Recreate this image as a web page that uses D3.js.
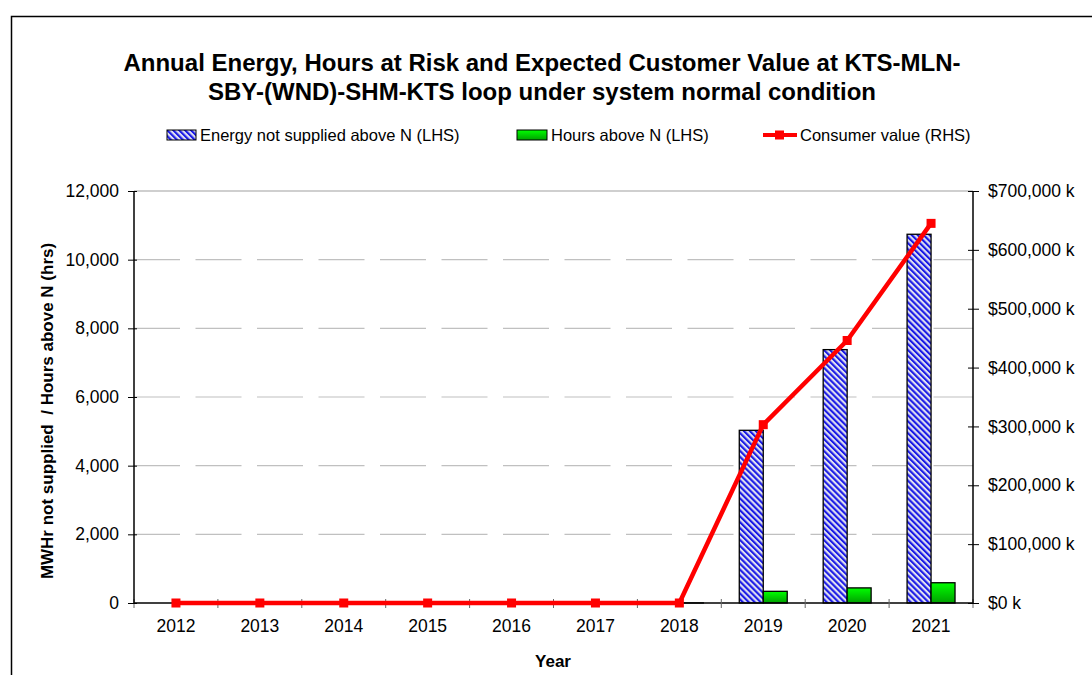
<!DOCTYPE html>
<html>
<head>
<meta charset="utf-8">
<script src="https://cdn.jsdelivr.net/npm/d3@7"></script>
<style>
  body { margin: 0; background: #fff; }
  text { font-family: "Liberation Sans", Arial, sans-serif; fill: #000; }
</style>
</head>
<body>
<div id="vis"></div>
<script>

// data
var years = ['2012', '2013', '2014', '2015', '2016', '2017', '2018', '2019', '2020', '2021'];
var energyMWh = [0, 0, 0, 0, 0, 0, 20, 5030, 7380, 10740];
var hoursAboveN = [0, 0, 0, 0, 0, 0, 3, 340, 440, 590];
var consumerValueK = [0, 0, 0, 0, 0, 0, 0, 303000, 446000, 645000];

var leftTicks = [0, 2000, 4000, 6000, 8000, 10000, 12000];
var rightTicks = [0, 100000, 200000, 300000, 400000, 500000, 600000, 700000];

var width = 1092;
var height = 675;

var plot = { left: 134, right: 973, top: 191, bottom: 603 };

var svg = d3.select('#vis')
  .append('svg')
  .attr('width', width)
  .attr('height', height);

// patterns and gradient
var defs = svg.append('defs');

var hatch = defs.append('pattern')
  .attr('id', 'hatch')
  .attr('patternUnits', 'userSpaceOnUse')
  .attr('width', 4.2)
  .attr('height', 4.2)
  .attr('patternTransform', 'rotate(-45)');
hatch.append('rect').attr('width', 4.2).attr('height', 4.2).attr('fill', '#e0e0f0');
hatch.append('rect').attr('width', 2.1).attr('height', 4.2).attr('fill', '#1a1ae6');

var grad = defs.append('linearGradient')
  .attr('id', 'greenGrad')
  .attr('x1', 0).attr('y1', 0).attr('x2', 0).attr('y2', 1);
grad.append('stop').attr('offset', '0%').attr('stop-color', '#00ff00');
grad.append('stop').attr('offset', '100%').attr('stop-color', '#00a000');

// outer frame
svg.append('rect')
  .attr('x', 11.5)
  .attr('y', 16.5)
  .attr('width', 1200)
  .attr('height', 800)
  .attr('fill', 'none')
  .attr('stroke', '#000')
  .attr('stroke-width', 1.5);

// title
var title = svg.append('text')
  .attr('text-anchor', 'middle')
  .attr('font-weight', 'bold')
  .attr('font-size', 24);
title.append('tspan').attr('x', 542).attr('y', 71)
  .text('Annual Energy, Hours at Risk and Expected Customer Value at KTS-MLN-');
title.append('tspan').attr('x', 542).attr('y', 100)
  .text('SBY-(WND)-SHM-KTS loop under system normal condition');

// scales
var x = d3.scaleBand()
  .domain(years)
  .range([plot.left, plot.right])
  .padding(0);

var xSub = d3.scaleBand()
  .domain(['energy', 'hours'])
  .range([0, x.bandwidth()])
  .paddingInner(0)
  .paddingOuter(0.75);

var yLeft = d3.scaleLinear()
  .domain([0, 12000])
  .range([plot.bottom, plot.top]);

var yRight = d3.scaleLinear()
  .domain([0, 700000])
  .range([plot.bottom, plot.top]);

// gridlines
svg.append('g')
  .selectAll('line')
  .data(leftTicks.filter(function (d) { return d > 0 && d < 12000; }))
  .enter().append('line')
  .attr('x1', plot.left)
  .attr('x2', plot.right)
  .attr('y1', function (d) { return yLeft(d); })
  .attr('y2', function (d) { return yLeft(d); })
  .attr('stroke', '#c0c0c0')
  .attr('stroke-width', 1.2)
  .attr('stroke-dasharray', '46,15.5');

svg.append('line')
  .attr('x1', plot.left).attr('x2', plot.right)
  .attr('y1', yLeft(12000)).attr('y2', yLeft(12000))
  .attr('stroke', '#a0a0a0')
  .attr('stroke-width', 1.2);

// bars
var groups = svg.append('g')
  .selectAll('g')
  .data(years)
  .enter().append('g')
  .attr('transform', function (d) { return 'translate(' + x(d) + ',0)'; });

groups.filter(function (d, i) { return energyMWh[i] > 0; })
  .append('rect')
  .attr('x', xSub('energy'))
  .attr('width', xSub.bandwidth())
  .attr('y', function (d) { return yLeft(energyMWh[years.indexOf(d)]); })
  .attr('height', function (d) { return plot.bottom - yLeft(energyMWh[years.indexOf(d)]); })
  .attr('fill', 'url(#hatch)')
  .attr('stroke', '#000')
  .attr('stroke-width', 1.3);

groups.filter(function (d, i) { return hoursAboveN[i] > 0; })
  .append('rect')
  .attr('x', xSub('hours'))
  .attr('width', xSub.bandwidth())
  .attr('y', function (d) { return yLeft(hoursAboveN[years.indexOf(d)]); })
  .attr('height', function (d) { return plot.bottom - yLeft(hoursAboveN[years.indexOf(d)]); })
  .attr('fill', 'url(#greenGrad)')
  .attr('stroke', '#000')
  .attr('stroke-width', 1.3);

// axes
var xAxis = svg.append('g')
  .attr('transform', 'translate(0,' + plot.bottom + ')');
xAxis.append('line')
  .attr('x1', plot.left).attr('x2', plot.right)
  .attr('stroke', '#000').attr('stroke-width', 1.5);
xAxis.selectAll('.tick')
  .data(years.concat(['end']))
  .enter().append('line')
  .attr('x1', function (d) { return d === 'end' ? plot.right : x(d); })
  .attr('x2', function (d) { return d === 'end' ? plot.right : x(d); })
  .attr('y1', -4)
  .attr('y2', 5)
  .attr('stroke', '#666');
xAxis.selectAll('.label')
  .data(years)
  .enter().append('text')
  .attr('x', function (d) { return x(d) + x.bandwidth() / 2; })
  .attr('y', 29)
  .attr('text-anchor', 'middle')
  .attr('font-size', 17.5)
  .text(function (d) { return d; });

var leftAxis = svg.append('g')
  .attr('transform', 'translate(' + plot.left + ',0)')
  .call(d3.axisLeft(yLeft).tickValues(leftTicks).tickFormat(d3.format(',')).tickSize(6).tickPadding(9));
leftAxis.select('.domain').remove();
leftAxis.append('line')
  .attr('y1', plot.top).attr('y2', plot.bottom)
  .attr('stroke', '#000').attr('stroke-width', 1.5);
leftAxis.selectAll('.tick line').attr('x1', 3).attr('stroke', '#000');
leftAxis.selectAll('.tick text')
  .attr('font-size', 17.5)
  .attr('font-family', '"Liberation Sans", Arial, sans-serif')
  .attr('fill', '#000');

var rightAxis = svg.append('g')
  .attr('transform', 'translate(' + plot.right + ',0)')
  .call(d3.axisRight(yRight).tickValues(rightTicks)
    .tickFormat(function (d) { return '$' + d3.format(',')(d) + ' k'; })
    .tickSize(6).tickPadding(9));
rightAxis.select('.domain').remove();
rightAxis.append('line')
  .attr('y1', plot.top).attr('y2', plot.bottom)
  .attr('stroke', '#000').attr('stroke-width', 1.5);
rightAxis.selectAll('.tick line').attr('x1', -5).attr('stroke', '#000');
rightAxis.selectAll('.tick text')
  .attr('font-size', 17.5)
  .attr('font-family', '"Liberation Sans", Arial, sans-serif')
  .attr('fill', '#000');

// consumer value line
var line = d3.line()
  .x(function (d, i) { return x(years[i]) + x.bandwidth() / 2; })
  .y(function (d) { return yRight(d); });

svg.append('path')
  .datum(consumerValueK)
  .attr('d', line)
  .attr('fill', 'none')
  .attr('stroke', '#ff0000')
  .attr('stroke-width', 4.5)
  .attr('stroke-linejoin', 'round');

svg.append('g')
  .selectAll('rect')
  .data(consumerValueK)
  .enter().append('rect')
  .attr('x', function (d, i) { return x(years[i]) + x.bandwidth() / 2 - 4.5; })
  .attr('y', function (d) { return yRight(d) - 4.5; })
  .attr('width', 9)
  .attr('height', 9)
  .attr('fill', '#ff0000');

// axis titles
svg.append('text')
  .attr('x', 553)
  .attr('y', 667)
  .attr('text-anchor', 'middle')
  .attr('font-weight', 'bold')
  .attr('font-size', 17)
  .text('Year');

svg.append('text')
  .attr('transform', 'translate(53,411) rotate(-90)')
  .attr('text-anchor', 'middle')
  .attr('font-weight', 'bold')
  .attr('font-size', 17)
  .attr('xml:space', 'preserve')
  .style('white-space', 'pre')
  .text('MWHr not supplied  / Hours above N (hrs)');

// legend
var legend = svg.append('g').attr('font-size', 16.5);

legend.append('rect')
  .attr('x', 167).attr('y', 130).attr('width', 29).attr('height', 10)
  .attr('fill', 'url(#hatch)').attr('stroke', '#000').attr('stroke-width', 1);
legend.append('text').attr('x', 200).attr('y', 141).text('Energy not supplied above N (LHS)');

legend.append('rect')
  .attr('x', 517).attr('y', 130).attr('width', 30).attr('height', 10)
  .attr('fill', 'url(#greenGrad)').attr('stroke', '#000').attr('stroke-width', 1);
legend.append('text').attr('x', 551).attr('y', 141).text('Hours above N (LHS)');

legend.append('line')
  .attr('x1', 763).attr('x2', 797).attr('y1', 135).attr('y2', 135)
  .attr('stroke', '#ff0000').attr('stroke-width', 4);
legend.append('rect')
  .attr('x', 775).attr('y', 130.5).attr('width', 9).attr('height', 9)
  .attr('fill', '#ff0000');
legend.append('text').attr('x', 800).attr('y', 141).text('Consumer value (RHS)');

</script>
</body>
</html>
